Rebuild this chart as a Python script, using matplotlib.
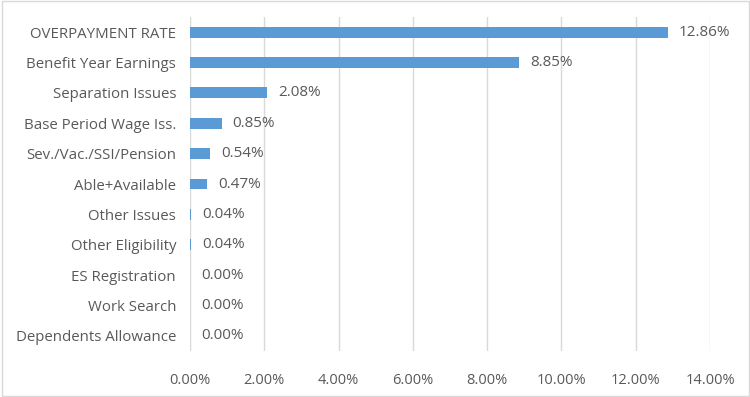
import matplotlib.pyplot as plt
from matplotlib.patches import Rectangle

categories = ['OVERPAYMENT RATE', 'Benefit Year Earnings', 'Separation Issues',
              'Base Period Wage Iss.', 'Sev./Vac./SSI/Pension', 'Able+Available',
              'Other Issues', 'Other Eligibility', 'ES Registration',
              'Work Search', 'Dependents Allowance']
values = [12.86, 8.85, 2.08, 0.85, 0.54, 0.47, 0.04, 0.04, 0.00, 0.00, 0.00]
xticks = [0, 2, 4, 6, 8, 10, 12, 14]

plt.rcParams['font.family'] = ['Open Sans', 'DejaVu Sans']
txt = '#595959'

fig = plt.figure(figsize=(7.5, 3.97), dpi=100)
ax = fig.add_axes([0.2533, 0.116, 0.6934, 0.841])

pos = list(range(len(categories)))
ax.barh(pos, values, height=0.36, color='#5B9BD5', zorder=3)
for p, v in zip(pos, values):
    ax.text(v + 0.3, p, f'{v:.2f}%', va='center', ha='left', fontsize=11, color=txt)

ax.set_ylim(len(categories) - 0.5, -0.5)
ax.set_xlim(0, 14)
ax.set_yticks(pos)
ax.set_yticklabels(categories, fontsize=10.8, color=txt)
ax.set_xticks(xticks)
ax.set_xticklabels([f'{t:.2f}%' for t in xticks], fontsize=10.5, color=txt)
ax.tick_params(length=0)
ax.tick_params(axis='y', pad=10)
ax.tick_params(axis='x', pad=16)
ax.grid(axis='x', color='#D9D9D9', linewidth=1, zorder=0)
for s in ax.spines.values():
    s.set_visible(False)

fig.patches.append(Rectangle((0.002, 0.003), 0.996, 0.994, transform=fig.transFigure,
                             fill=False, edgecolor='#D9D9D9', linewidth=1))

fig.savefig('out.png', dpi=100)
